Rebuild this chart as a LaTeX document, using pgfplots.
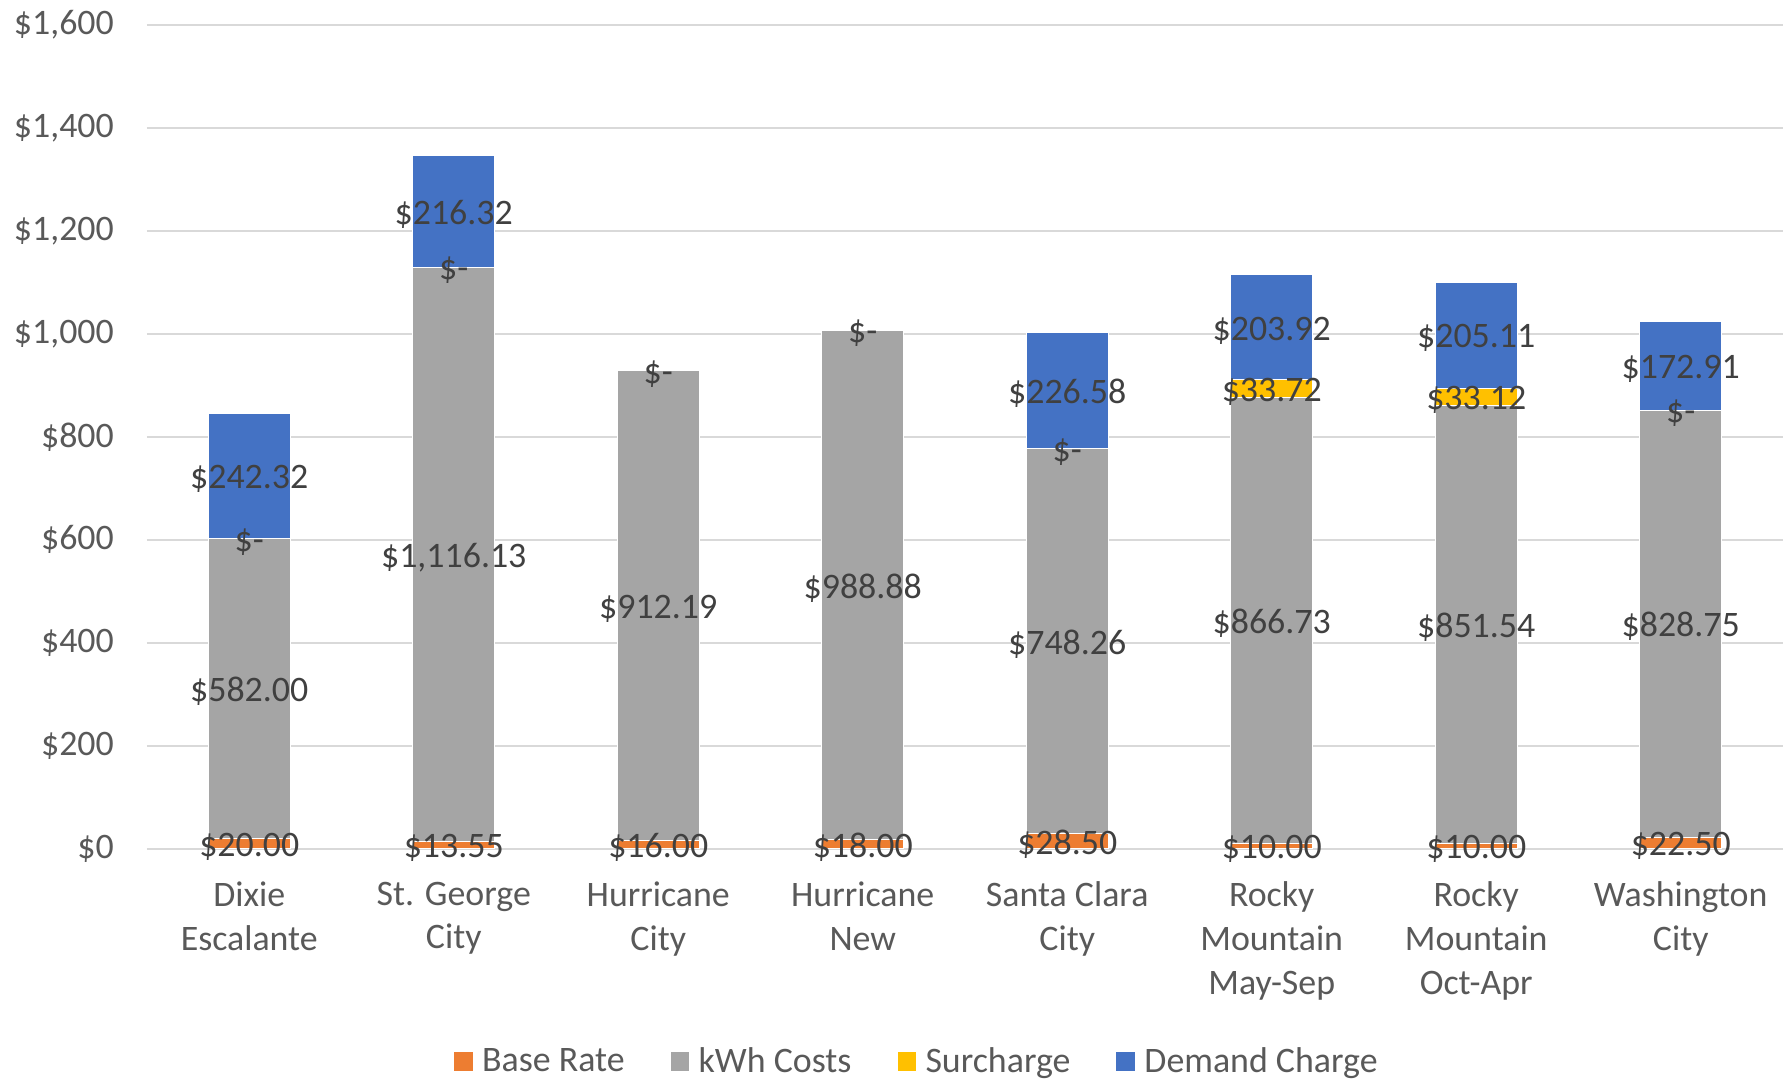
\documentclass[border=0pt]{standalone}
\usepackage{pgfplots}
\pgfplotsset{compat=1.18}
\usepackage{fontspec}
\setmainfont{Carlito}
\definecolor{cbase}{HTML}{ED7D31}
\definecolor{ckwh}{HTML}{A5A5A5}
\definecolor{csur}{HTML}{FFC000}
\definecolor{cdem}{HTML}{4472C4}
\definecolor{gridc}{HTML}{D9D9D9}
\definecolor{tickc}{HTML}{595959}
\definecolor{labc}{HTML}{404040}
\newcommand\bigf{\fontsize{36}{44}\selectfont}
\pgfplotsset{common/.style={scale only axis, width=1636bp, height=823.6bp,
  xmin=-0.5, xmax=7.5, ymin=0, ymax=1600, enlargelimits=false}}
\begin{document}
\begin{tikzpicture}
\path[use as bounding box] (-147bp,-232.4bp) rectangle (1645bp,848.6bp);
\begin{axis}[common, ybar stacked, bar width=0.4,
  axis line style={draw=none}, major tick length=0pt,
  ymajorgrids, grid style={draw=gridc, line width=2bp},
  ytick={0,200,400,600,800,1000,1200,1400,1600},
  yticklabels={\$0,\$200,\$400,\$600,\$800,{\$1,000},{\$1,200},{\$1,400},{\$1,600}},
  yticklabel style={anchor=east, inner sep=0pt, xshift=-33bp, text=tickc, font=\bigf},
  xtick={0,1,2,3,4,5,6,7},
  xticklabels={{Dixie\\Escalante},{St. George\\City},{Hurricane\\City},{Hurricane\\New},{Santa Clara\\City},{Rocky\\Mountain\\May-Sep},{Rocky\\Mountain\\Oct-Apr},{Washington\\City}},
  xticklabel style={anchor=north, inner sep=0pt, yshift=-33bp, align=center, text=tickc, font=\bigf},
  every axis plot post/.append style={legend image code/.code={\fill[##1,draw=none] (0bp,-10bp) rectangle (18.5bp,8.5bp);}},
  legend columns=4,
  legend style={draw=none, fill=none, at={(0.18765,-0.2578)}, anchor=west, inner sep=0pt,
    nodes={inner sep=0pt, text=tickc, font=\bigf},
    /tikz/every odd column/.append style={column sep=9.5bp},
    /tikz/every even column/.append style={column sep=46bp}},
]
\addplot[fill=cbase, draw=white, line width=1bp] coordinates {(0,20) (1,13.55) (2,16) (3,18) (4,28.5) (5,10) (6,10) (7,22.5)};
\addlegendentry{Base Rate}
\addplot[fill=ckwh, draw=white, line width=1bp] coordinates {(0,582) (1,1116.13) (2,912.19) (3,988.88) (4,748.26) (5,866.73) (6,851.54) (7,828.75)};
\addlegendentry{kWh Costs}
\addplot[fill=csur, draw=white, line width=1bp] coordinates {(0,0) (1,0) (2,0) (3,0) (4,0) (5,33.72) (6,33.12) (7,0)};
\addlegendentry{Surcharge}
\addplot[fill=cdem, draw=white, line width=1bp] coordinates {(0,242.32) (1,216.32) (2,0) (3,0) (4,226.58) (5,203.92) (6,205.11) (7,172.91)};
\addlegendentry{Demand Charge}
\end{axis}
\begin{axis}[common, hide axis, clip=false,
  every node near coord/.append style={anchor=center, inner sep=0pt, yshift=-3bp, text=labc, font=\bigf}]
\addplot[draw=none, mark=none, nodes near coords, point meta=explicit symbolic] coordinates {
 (0,10) [\$20.00] (1,6.775) [\$13.55] (2,8) [\$16.00] (3,9) [\$18.00]
 (4,14.25) [\$28.50] (5,5) [\$10.00] (6,5) [\$10.00] (7,11.25) [\$22.50]};
\addplot[draw=none, mark=none, nodes near coords, point meta=explicit symbolic] coordinates {
 (0,311) [\$582.00] (1,571.615) [{\$1,116.13}] (2,472.095) [\$912.19] (3,512.44) [\$988.88]
 (4,402.63) [\$748.26] (5,443.365) [\$866.73] (6,435.77) [\$851.54] (7,436.875) [\$828.75]};
\addplot[draw=none, mark=none, nodes near coords, point meta=explicit symbolic] coordinates {
 (0,602) [\$-] (1,1129.68) [\$-] (2,928.19) [\$-] (3,1006.88) [\$-]
 (4,776.76) [\$-] (5,893.59) [\$33.72] (6,878.10) [\$33.12] (7,851.25) [\$-]};
\addplot[draw=none, mark=none, nodes near coords, point meta=explicit symbolic] coordinates {
 (0,723.16) [\$242.32] (1,1237.84) [\$216.32]
 (4,890.05) [\$226.58] (5,1012.41) [\$203.92] (6,997.215) [\$205.11] (7,937.705) [\$172.91]};
\end{axis}
\end{tikzpicture}
\end{document}
